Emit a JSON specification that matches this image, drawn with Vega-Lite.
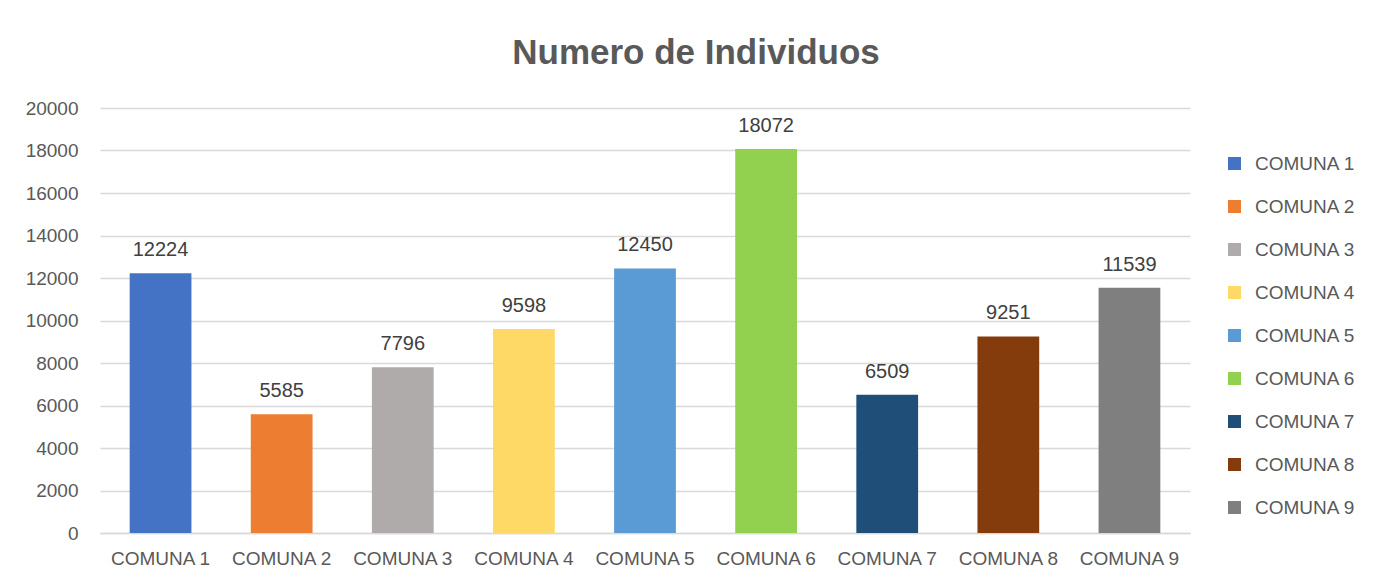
{
  "$schema": "https://vega.github.io/schema/vega-lite/v6.json",
  "autosize": "none",
  "width": 1090,
  "height": 425,
  "padding": {"left": 100, "top": 108, "right": 198, "bottom": 55},
  "background": "white",
  "data": {"values": [
    {"comuna": "COMUNA 1", "n": 12224},
    {"comuna": "COMUNA 2", "n": 5585},
    {"comuna": "COMUNA 3", "n": 7796},
    {"comuna": "COMUNA 4", "n": 9598},
    {"comuna": "COMUNA 5", "n": 12450},
    {"comuna": "COMUNA 6", "n": 18072},
    {"comuna": "COMUNA 7", "n": 6509},
    {"comuna": "COMUNA 8", "n": 9251},
    {"comuna": "COMUNA 9", "n": 11539}
  ]},
  "title": {
    "text": "Numero de Individuos",
    "font": "Liberation Sans",
    "fontSize": 35,
    "fontWeight": "bold",
    "color": "#595959",
    "anchor": "middle",
    "frame": "group",
    "offset": 28,
    "dx": 51
  },
  "encoding": {
    "x": {
      "field": "comuna", "type": "nominal", "sort": null,
      "scale": {"paddingInner": 0.49, "paddingOuter": 0.245},
      "axis": {"title": null, "labelAngle": 0, "ticks": false, "labelPadding": 16,
               "labelFontSize": 19, "labelFont": "Liberation Sans", "labelColor": "#595959",
               "domainColor": "#d9d9d9", "domainWidth": 1.5}
    },
    "y": {
      "field": "n", "type": "quantitative",
      "scale": {"domain": [0, 20000], "nice": false},
      "axis": {"title": null, "values": [0,2000,4000,6000,8000,10000,12000,14000,16000,18000,20000],
               "format": "d", "ticks": false, "domain": false, "labelPadding": 22,
               "labelFontSize": 19, "labelFont": "Liberation Sans", "labelColor": "#595959",
               "gridColor": "#d9d9d9", "gridWidth": 1.5}
    }
  },
  "layer": [
    {
      "mark": {"type": "bar"},
      "encoding": {
        "color": {
          "field": "comuna", "type": "nominal", "sort": null,
          "scale": {"range": ["#4472C4", "#ED7D31", "#AFABAB", "#FFD966", "#5B9BD5", "#92D050", "#1F4E79", "#843C0C", "#7F7F7F"]},
          "legend": {
            "title": null, "orient": "none", "legendX": 1125, "legendY": 46,
            "symbolType": "square", "symbolSize": 169, "symbolStrokeWidth": 0,
            "labelFont": "Liberation Sans", "labelFontSize": 19, "labelColor": "#595959",
            "labelOffset": 11, "rowPadding": 23
          }
        }
      }
    },
    {
      "mark": {"type": "text", "baseline": "alphabetic", "dy": -17, "font": "Liberation Sans", "fontSize": 20, "color": "#404040"},
      "encoding": {"text": {"field": "n", "type": "quantitative", "format": "d"}}
    }
  ],
  "config": {"view": {"stroke": null}}
}
